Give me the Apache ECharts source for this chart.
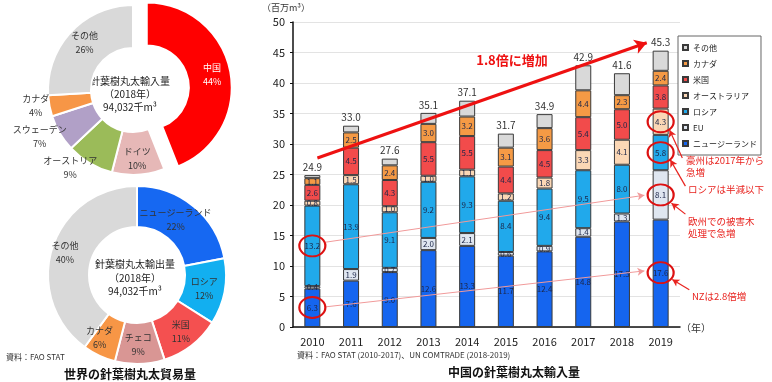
<!DOCTYPE html>
<html><head><meta charset="utf-8">
<script src="https://cdn.jsdelivr.net/npm/echarts@6/dist/echarts.min.js"></script>
<style>html,body{margin:0;padding:0;background:#fff}#c{width:772px;height:382px}</style>
</head><body><div id="c"></div>
<script>
// ---- data: China softwood log imports (million m3) ----
const years = ['2010','2011','2012','2013','2014','2015','2016','2017','2018','2019'];
const nz        = [6.3, 7.6, 9.0, 12.6, 13.3, 11.7, 12.4, 14.8, 17.3, 17.6];
const eu        = [0.4, 1.9, 0.7, 2.0, 2.1, 0.6, 0.9, 1.4, 1.3, 8.1];
const russia    = [13.2, 13.9, 9.1, 9.2, 9.3, 8.4, 9.4, 9.5, 8.0, 5.8];
const australia = [0.8, 1.5, 1.0, 1.0, 1.1, 1.2, 1.8, 3.3, 4.1, 4.3];
const usa       = [2.6, 4.5, 4.3, 5.5, 5.5, 4.4, 4.5, 5.4, 5.0, 3.8];
const canada    = [1.1, 2.5, 2.4, 3.0, 3.2, 3.1, 3.6, 4.4, 2.3, 2.4];
const other     = [0.5, 1.1, 1.1, 1.8, 2.6, 2.3, 2.3, 4.1, 3.6, 3.3];
const totals    = [24.9, 33.0, 27.6, 35.1, 37.1, 31.7, 34.9, 42.9, 41.6, 45.3];
const seriesNames = ['ニュージーランド','EU','ロシア','オーストラリア','米国','カナダ','その他'];
// ---- data: world softwood log trade 2018 (%) ----
const importNames  = ['中国','ドイツ','オーストリア','スウェーデン','カナダ','その他'];
const importShares = [44, 10, 9, 7, 4, 26];
const exportNames  = ['ニュージーランド','ロシア','米国','チェコ','カナダ','その他'];
const exportShares = [22, 12, 11, 9, 6, 40];

const FONT = '"Noto Sans CJK JP","Noto Sans",sans-serif';
const chart = echarts.init(document.getElementById('c'), null, {renderer:'canvas'});

const barColors = ['#1565ef','#dfe6f0','#21a9eb','#fbd7b5','#f24b4b','#f59a45','#d9d9d9'];
const barData = [nz, eu, russia, australia, usa, canada, other];

const barSeries = seriesNames.map((name, i) => ({
  name, type:'bar', stack:'all', barWidth:16,
  xAxisIndex:0, yAxisIndex:0,
  data: barData[i],
  itemStyle:{color:barColors[i], borderColor:'#3a3a3a', borderWidth:1},
  label: name === 'その他' ? {
    show:true, position:'top', distance:3, fontSize:10, color:'#333', fontFamily:FONT,
    formatter: p => totals[p.dataIndex].toFixed(1)
  } : {
    show:true, position:'inside', fontSize:8, color:'#1c2648', fontFamily:FONT,
    formatter: p => p.value.toFixed(1)
  },
  emphasis:{disabled:true}, silent:true
}));

const importColors = ['#ff0000','#e6b8b7','#9bbb59','#b1a0c7','#f79646','#d9d9d9'];
const importOffsets = [[0,0],[0,2],[-29,20],[-36,13],[-32,3],[0,-2]];
const exportColors = ['#1668f2','#12aff0','#f45050','#d99694','#f79646','#d9d9d9'];
const exportOffsets = [[-7,0],[-3,0],[0,0],[-1,-2],[-7,-2],[-4,0]];

function pieData(names, shares, colors, offsets, selIdx){
  return names.map((n,i)=>({
    name:n, value:shares[i], selected: i===selIdx,
    itemStyle:{color:colors[i]},
    label:{offset:offsets[i], color: (i===selIdx ? '#fff' : '#333')}
  }));
}

const pieCommon = {
  type:'pie', startAngle:90, clockwise:true, avoidLabelOverlap:false,
  itemStyle:{borderColor:'#fff', borderWidth:2},
  label:{show:true, position:'inside', fontSize:9, lineHeight:14, fontFamily:FONT, formatter:'{b}\n{c}%'},
  labelLine:{show:false}, emphasis:{disabled:true}, silent:true
};

const red = '#e8231f';
// annotation layer: hidden value axes on a wider grid with same scale as the bar grid
const annSeries = {
  type:'scatter', xAxisIndex:1, yAxisIndex:1, data:[], silent:true,
  markLine:{
    silent:true, animation:false, symbolSize:[0,0],
    label:{show:false},
    data:[
      [{coord:[0.13,27.7], lineStyle:{color:'#ee1111', width:3, type:'solid'}, symbol:'none'},
       {coord:[8.64,46.6], symbol:'arrow', symbolSize:[11,12]}],
      [{coord:[0.34,13.9], lineStyle:{color:'#f19a9a', width:1, type:'solid'}, symbol:'none'},
       {coord:[8.58,21.6], symbol:'arrow', symbolSize:[6,7]}],
      [{coord:[0.34,3.3], lineStyle:{color:'#f19a9a', width:1, type:'solid'}, symbol:'none'},
       {coord:[8.58,9.2], symbol:'arrow', symbolSize:[6,7]}],
      [{coord:[9.56,27.7], lineStyle:{color:red, width:1.2, type:'solid'}, symbol:'none'},
       {coord:[9.23,32.3], symbol:'arrow', symbolSize:[6,7]}],
      [{coord:[9.64,23.1], lineStyle:{color:red, width:1.2, type:'solid'}, symbol:'none'},
       {coord:[9.25,27.4], symbol:'arrow', symbolSize:[6,7]}],
      [{coord:[9.64,18.5], lineStyle:{color:red, width:1.2, type:'solid'}, symbol:'none'},
       {coord:[9.28,20.3], symbol:'arrow', symbolSize:[6,7]}],
      [{coord:[9.74,6.1], lineStyle:{color:red, width:1.2, type:'solid'}, symbol:'none'},
       {coord:[9.30,7.8], symbol:'arrow', symbolSize:[6,7]}]
    ]
  },
  markPoint:{
    silent:true, animation:false,
    symbol:'circle', symbolSize:[26,21],
    itemStyle:{color:'rgba(0,0,0,0)', borderColor:'#dd1111', borderWidth:2},
    label:{show:false},
    data:[
      {coord:[0,13.3]},{coord:[0,3.2]},
      {coord:[9,33.65]},{coord:[9,28.6]},{coord:[9,21.65]},{coord:[9,8.9]}
    ]
  }
};

function txt(text, x, y, opt){
  return Object.assign({type:'text', x, y, silent:true, style:Object.assign({
    text, fill:'#222', font:'10px '+FONT, align:'left', verticalAlign:'middle'
  }, opt||{})});
}

const GL = 293, GR = 680, W = 772;
const catW = (GR - GL) / years.length;
const annMax = -0.5 + (W - GL) / catW;

const option = {
  animation:false,
  textStyle:{fontFamily:FONT},
  grid:[
    {left:GL, right:W-GR, top:22, bottom:55, containLabel:false},
    {left:GL, right:0, top:22, bottom:55, containLabel:false}
  ],
  legend:{
    data: seriesNames.slice().reverse(),
    orient:'vertical', left:678, top:36,
    padding:[6,4,6,4], itemGap:5, itemWidth:5, itemHeight:5, icon:'rect',
    borderColor:'#666', borderWidth:1, backgroundColor:'#fff',
    textStyle:{fontSize:8, lineHeight:11, color:'#222', fontFamily:FONT},
    selectedMode:false
  },
  xAxis:[
    {type:'category', data:years, gridIndex:0,
     axisLine:{lineStyle:{color:'#111', width:1.5}}, axisTick:{show:false},
     axisLabel:{fontSize:11, color:'#222', margin:9, fontFamily:FONT}},
    {type:'value', min:-0.5, max:annMax, show:false, gridIndex:1}
  ],
  yAxis:[
    {type:'value', min:0, max:50, interval:5, gridIndex:0,
     axisLine:{show:true, lineStyle:{color:'#111', width:1.5}},
     axisTick:{show:true, length:3, lineStyle:{color:'#111'}},
     axisLabel:{fontSize:11, color:'#222', margin:8, fontFamily:FONT},
     splitLine:{lineStyle:{color:'#e3e3e3'}}},
    {type:'value', min:0, max:50, show:false, gridIndex:1}
  ],
  series:[
    ...barSeries,
    annSeries,
    Object.assign({}, pieCommon, {center:[133,90], radius:[42,85], selectedMode:'single', selectedOffset:14,
      data:pieData(importNames, importShares, importColors, importOffsets, 0)}),
    Object.assign({}, pieCommon, {center:[137,275], radius:[48,89], selectedMode:false,
      data:pieData(exportNames, exportShares, exportColors, exportOffsets, -1)})
  ],
  graphic:[
    txt('針葉樹丸太輸入量', 130, 81, {align:'center', font:'10px '+FONT}),
    txt('（2018年）', 130, 94, {align:'center', font:'10px '+FONT}),
    txt('94,032千m³', 130, 107, {align:'center', font:'10px '+FONT}),
    txt('針葉樹丸太輸出量', 135, 264, {align:'center', font:'10px '+FONT}),
    txt('（2018年）', 135, 278, {align:'center', font:'10px '+FONT}),
    txt('94,032千m³', 135, 291, {align:'center', font:'10px '+FONT}),
    txt('資料：FAO STAT', 6, 357, {font:'8px '+FONT, fill:'#333'}),
    txt('世界の針葉樹丸太貿易量', 130, 374, {align:'center', font:'bold 12px '+FONT, fill:'#111'}),
    txt('資料：FAO STAT (2010-2017)、UN COMTRADE (2018-2019)', 297, 355, {font:'8px '+FONT, fill:'#333'}),
    txt('中国の針葉樹丸太輸入量', 514, 372, {align:'center', font:'bold 12px '+FONT, fill:'#111'}),
    txt('（百万m³）', 286, 8, {align:'center', font:'9px '+FONT, fill:'#333'}),
    txt('（年）', 681, 328, {font:'10px '+FONT, fill:'#333'}),
    txt('1.8倍に増加', 512, 60, {align:'center', font:'bold 13px '+FONT, fill:'#ee1111'}),
    txt('豪州は2017年から', 686, 160, {font:'9.5px '+FONT, fill:red}),
    txt('急増', 686, 172, {font:'9.5px '+FONT, fill:red}),
    txt('ロシアは半減以下', 688, 189, {font:'9.5px '+FONT, fill:red}),
    txt('欧州での被害木', 688, 221, {font:'9.5px '+FONT, fill:red}),
    txt('処理で急増', 688, 233, {font:'9.5px '+FONT, fill:red}),
    txt('NZは2.8倍増', 692, 296, {font:'9.5px '+FONT, fill:red})
  ]
};
chart.setOption(option);
</script></body></html>
